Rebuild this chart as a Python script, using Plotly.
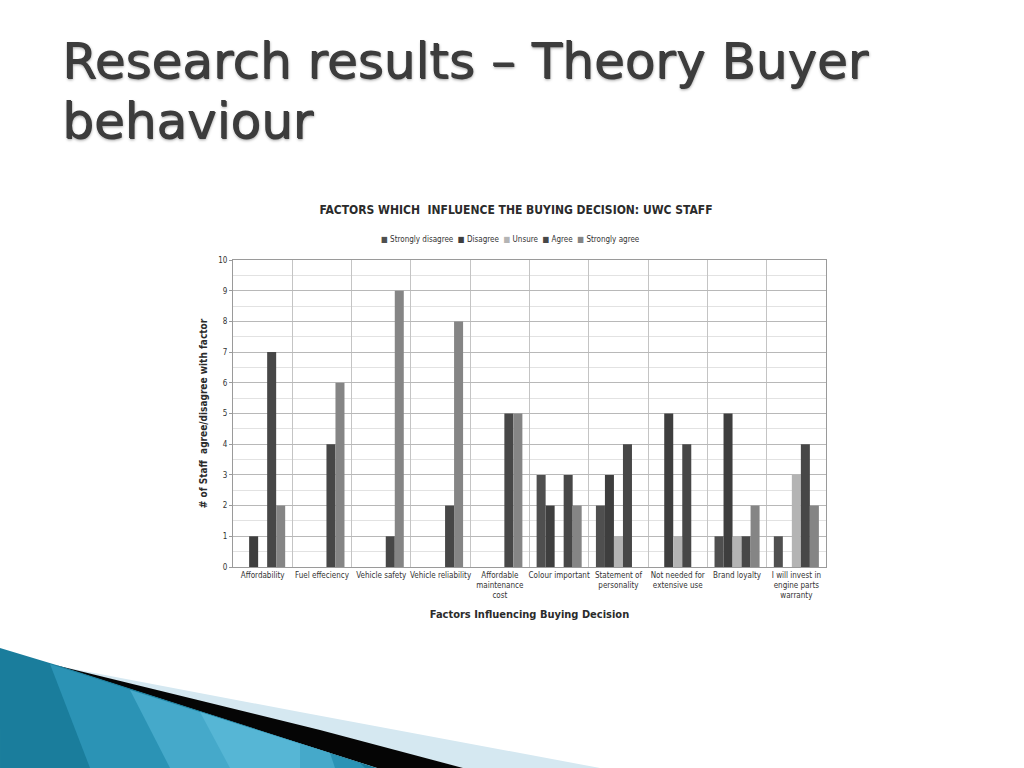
import plotly.graph_objects as go

# Survey counts per factor (UWC staff)
factors = ["Affordability", "Fuel effeciency", "Vehicle safety", "Vehicle reliability",
           "Affordable<br>maintenance<br>cost", "Colour important", "Statement of<br>personality",
           "Not needed for<br>extensive use", "Brand loyalty", "I will invest in<br>engine parts<br>warranty"]

strongly_disagree = [0, 0, 0, 0, 0, 3, 2, 0, 1, 1]
disagree = [1, 0, 0, 0, 0, 2, 3, 5, 5, 0]
unsure = [0, 0, 0, 0, 0, 0, 1, 1, 1, 3]
agree = [7, 4, 1, 2, 5, 3, 4, 4, 1, 4]
strongly_agree = [2, 6, 9, 8, 5, 2, 0, 0, 2, 2]

series = [
    ("Strongly disagree", strongly_disagree, "#4f4f4f"),
    ("Disagree", disagree, "#3e3e3e"),
    ("Unsure", unsure, "#b4b4b4"),
    ("Agree", agree, "#474747"),
    ("Strongly agree", strongly_agree, "#858585"),
]

# plot area in pixels (page is 1024x768)
L, R, T, B = 233, 826, 260, 567


def px(x, y):
    return (x - L) / (R - L), (B - y) / (B - T)


fig = go.Figure()
for name, vals, col in series:
    fig.add_trace(go.Bar(x=factors, y=vals, name=name, marker_color=col,
                         marker_line_width=0, showlegend=False))

narrow = "DejaVu Sans Condensed, Liberation Sans Narrow, sans-serif"

fig.update_layout(
    width=1024, height=768,
    margin=dict(l=L, r=1024 - R, t=T, b=768 - B),
    paper_bgcolor="white", plot_bgcolor="white",
    barmode="group", bargap=0.24, bargroupgap=0,
    font=dict(family=narrow, color="#333333", size=9),
    title=dict(text="<b>FACTORS WHICH  INFLUENCE THE BUYING DECISION: UWC STAFF</b>",
               x=516 / 1024, xanchor="center", y=1 - 210 / 768, yanchor="middle",
               font=dict(family=narrow, size=12, color="#2b2b2b")),
)

# legend line written as text with coloured squares
legend_txt = "  ".join(f"<span style='color:{c}'>■</span> {n}" for n, _, c in series)
lx, ly = px(510, 239)
fig.add_annotation(text=legend_txt, xref="paper", yref="paper", x=lx, y=ly,
                   xanchor="center", yanchor="middle", showarrow=False,
                   font=dict(family=narrow, size=8, color="#333333"))

fig.update_xaxes(
    type="category", tickson="boundaries", showgrid=True, gridcolor="#c4c4c4", gridwidth=1,
    showline=True, linecolor="#9a9a9a", mirror=True, ticks="", tickangle=0,
    automargin=False,
    tickfont=dict(family=narrow, size=8, color="#333333"),
    title=dict(text="<b>Factors Influencing Buying Decision</b>", standoff=10,
               font=dict(family=narrow, size=11, color="#2b2b2b")),
)
fig.update_yaxes(
    range=[0, 10], dtick=1, showgrid=True, gridcolor="#b8b8b8", gridwidth=1,
    showline=True, linecolor="#9a9a9a", mirror=True, zeroline=False,
    ticks="outside", ticklen=3, tickcolor="#9a9a9a", automargin=False,
    tickfont=dict(family=narrow, size=8, color="#333333"),
    minor=dict(dtick=0.5, showgrid=True, gridcolor="#e2e2e2", gridwidth=1),
    title=dict(text="<b># of Staff  agree/disagree with factor</b>", standoff=8,
               font=dict(family=narrow, size=10, color="#2b2b2b")),
)

# slide title, one annotation per line so the line spacing can be set
title_lines = ["Research results – Theory Buyer", "behaviour"]
for i, line in enumerate(title_lines):
    tx, ty = px(60, 30 + 60 * i)
    fig.add_annotation(
        text=line, xref="paper", yref="paper", x=tx, y=ty,
        xanchor="left", yanchor="top", align="left", showarrow=False,
        font=dict(family="DejaVu Sans", size=50, color="#3c3c3c",
                  shadow="1px 1px 0px #3c3c3c, 1px 2px 3px #a0a0a0"),
    )


# decorative swoosh in the bottom left corner
def poly(points, color):
    parts = []
    for i, (x, y) in enumerate(points):
        u, v = px(x, y)
        parts.append(("M" if i == 0 else "L") + f"{u:.4f},{v:.4f}")
    fig.add_shape(type="path", path=" ".join(parts) + " Z", xref="paper", yref="paper",
                  fillcolor=color, line_width=0, layer="above")


poly([(63, 667), (300, 712), (600, 768), (463, 768)], "#d5e8f1")
poly([(55, 665), (320, 730), (463, 768), (377, 768)], "#050505")
poly([(0, 648), (63, 667), (377, 768), (0, 768)], "#1a7d9c")
poly([(50, 664), (360, 763), (365, 768), (90, 768)], "#2b93b5")
poly([(130, 690), (330, 753), (335, 768), (170, 768)], "#45a9ca")
poly([(200, 712), (300, 744), (300, 768), (230, 768)], "#56b6d5")

fig.write_html("out.html", config={"displayModeBar": False},
               post_script="document.body.style.margin='0';")
